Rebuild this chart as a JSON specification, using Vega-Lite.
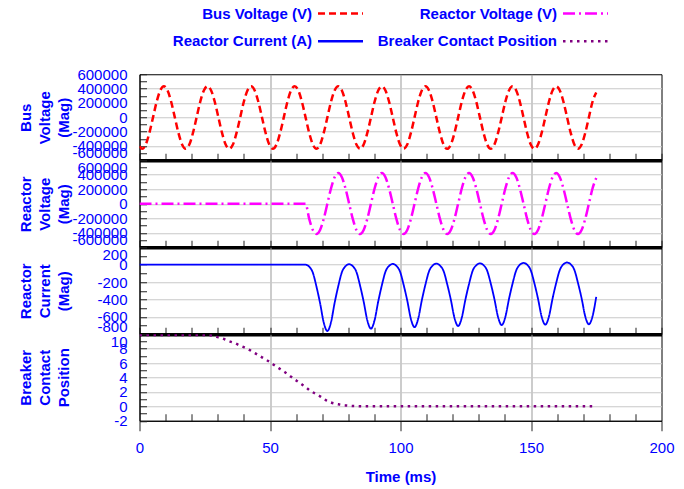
{
"$schema": "https://vega.github.io/schema/vega-lite/v6.json",
"padding": {"left": 17.5, "top": 0.25, "right": 0, "bottom": 0},
"spacing": 0,
"bounds": "flush",
"config": {
  "font": "Liberation Sans",
  "view": {"stroke": "#000000", "strokeWidth": 1},
  "axis": {"labelFont": "Liberation Sans", "labelFontSize": 15, "labelColor": "#0000ff", "titleFont": "Liberation Sans", "titleFontSize": 15, "titleFontWeight": "bold", "titleColor": "#0000ff", "domainColor": "#000000", "tickColor": "#222222", "labelOverlap": false, "labelBound": false},
  "axisY": {"tickSize": -7, "labelPadding": 19.5, "gridColor": "#c8c8c8", "labelFlush": false, "domainColor": "#000000"},
  "axisX": {"domainColor": "#000000", "domainOpacity": 1}
},
"data": {"values": [
{"t":0,"a":-405000,"b":0,"c":0,"d":9.9},
{"t":1.00,"a":-440000,"b":0,"c":0,"d":9.9},
{"t":2.39,"a":-381000,"b":0,"c":0,"d":9.9},
{"t":3.78,"a":-219000,"b":0,"c":0,"d":9.9},
{"t":5.18,"a":-2000,"b":0,"c":0,"d":9.9},
{"t":6.57,"a":216000,"b":0,"c":0,"d":9.9},
{"t":7.96,"a":374000,"b":0,"c":0,"d":9.9},
{"t":9.35,"a":432000,"b":0,"c":0,"d":9.9},
{"t":10.74,"a":374000,"b":0,"c":0,"d":9.9},
{"t":12.13,"a":216000,"b":0,"c":0,"d":9.9},
{"t":13.53,"a":-2000,"b":0,"c":0,"d":9.9},
{"t":14.92,"a":-219000,"b":0,"c":0,"d":9.9},
{"t":16.31,"a":-381000,"b":0,"c":0,"d":9.9},
{"t":17.70,"a":-440000,"b":0,"c":0,"d":9.9},
{"t":19.09,"a":-381000,"b":0,"c":0,"d":9.9},
{"t":20.48,"a":-219000,"b":0,"c":0,"d":9.9},
{"t":21.88,"a":-2000,"b":0,"c":0,"d":9.9},
{"t":23.27,"a":216000,"b":0,"c":0,"d":9.9},
{"t":24.66,"a":374000,"b":0,"c":0,"d":9.9},
{"t":26.05,"a":432000,"b":0,"c":0,"d":9.9},
{"t":27.44,"a":374000,"b":0,"c":0,"d":9.84},
{"t":28.83,"a":216000,"b":0,"c":0,"d":9.72},
{"t":30.23,"a":-2000,"b":0,"c":0,"d":9.56},
{"t":31.62,"a":-219000,"b":0,"c":0,"d":9.43},
{"t":33.01,"a":-381000,"b":0,"c":0,"d":9.24},
{"t":34.40,"a":-440000,"b":0,"c":0,"d":9.03},
{"t":35.79,"a":-381000,"b":0,"c":0,"d":8.86},
{"t":37.18,"a":-219000,"b":0,"c":0,"d":8.65},
{"t":38.58,"a":-2000,"b":0,"c":0,"d":8.41},
{"t":39.97,"a":216000,"b":0,"c":0,"d":8.21},
{"t":41.36,"a":374000,"b":0,"c":0,"d":7.97},
{"t":42.75,"a":432000,"b":0,"c":0,"d":7.70},
{"t":44.14,"a":374000,"b":0,"c":0,"d":7.40},
{"t":45.53,"a":216000,"b":0,"c":0,"d":7.10},
{"t":46.93,"a":-2000,"b":0,"c":0,"d":6.80},
{"t":48.32,"a":-219000,"b":0,"c":0,"d":6.50},
{"t":49.71,"a":-381000,"b":0,"c":0,"d":6.20},
{"t":51.10,"a":-440000,"b":0,"c":0,"d":5.85},
{"t":52.49,"a":-381000,"b":0,"c":0,"d":5.50},
{"t":53.88,"a":-219000,"b":0,"c":0,"d":5.17},
{"t":55.28,"a":-2000,"b":0,"c":0,"d":4.84},
{"t":56.67,"a":216000,"b":0,"c":0,"d":4.50},
{"t":58.06,"a":374000,"b":0,"c":0,"d":4.11},
{"t":59.45,"a":432000,"b":0,"c":0,"d":3.73},
{"t":60.84,"a":374000,"b":0,"c":0,"d":3.39},
{"t":62.23,"a":216000,"b":0,"c":0,"d":3.04},
{"t":63.63,"a":-2000,"b":0,"c":0,"d":2.68},
{"t":65.02,"a":-219000,"b":-209000,"c":-23,"d":2.26},
{"t":66.41,"a":-381000,"b":-362000,"c":-92,"d":1.95},
{"t":67.80,"a":-440000,"b":-418000,"c":-252,"d":1.66},
{"t":69.19,"a":-381000,"b":-362000,"c":-443,"d":1.38},
{"t":70.58,"a":-219000,"b":-209000,"c":-664,"d":1.05},
{"t":71.98,"a":-2000,"b":0,"c":-763,"d":0.72},
{"t":73.37,"a":216000,"b":210000,"c":-663,"d":0.53},
{"t":74.76,"a":374000,"b":366000,"c":-440,"d":0.38},
{"t":76.15,"a":432000,"b":424000,"c":-248,"d":0.29},
{"t":77.54,"a":374000,"b":366000,"c":-87,"d":0.20},
{"t":78.93,"a":216000,"b":210000,"c":-18,"d":0.13},
{"t":80.33,"a":-2000,"b":0,"c":5,"d":0.09},
{"t":81.72,"a":-219000,"b":-209000,"c":-17,"d":0.05},
{"t":83.11,"a":-381000,"b":-362000,"c":-84,"d":0.03},
{"t":84.50,"a":-440000,"b":-418000,"c":-240,"d":0.01},
{"t":85.89,"a":-381000,"b":-362000,"c":-425,"d":0},
{"t":87.28,"a":-219000,"b":-209000,"c":-640,"d":0},
{"t":88.68,"a":-2000,"b":0,"c":-736,"d":0},
{"t":90.07,"a":216000,"b":210000,"c":-639,"d":0},
{"t":91.46,"a":374000,"b":366000,"c":-424,"d":0},
{"t":92.85,"a":432000,"b":424000,"c":-238,"d":0},
{"t":94.24,"a":374000,"b":366000,"c":-81,"d":0},
{"t":95.63,"a":216000,"b":210000,"c":-14,"d":0},
{"t":97.03,"a":-2000,"b":0,"c":8,"d":0},
{"t":98.42,"a":-219000,"b":-209000,"c":-14,"d":0},
{"t":99.81,"a":-381000,"b":-362000,"c":-79,"d":0},
{"t":101.20,"a":-440000,"b":-418000,"c":-232,"d":0},
{"t":102.59,"a":-381000,"b":-362000,"c":-413,"d":0},
{"t":103.98,"a":-219000,"b":-209000,"c":-624,"d":0},
{"t":105.38,"a":-2000,"b":0,"c":-718,"d":0},
{"t":106.77,"a":216000,"b":210000,"c":-623,"d":0},
{"t":108.16,"a":374000,"b":366000,"c":-411,"d":0},
{"t":109.55,"a":432000,"b":424000,"c":-229,"d":0},
{"t":110.94,"a":374000,"b":366000,"c":-76,"d":0},
{"t":112.33,"a":216000,"b":210000,"c":-10,"d":0},
{"t":113.73,"a":-2000,"b":0,"c":12,"d":0},
{"t":115.12,"a":-219000,"b":-209000,"c":-10,"d":0},
{"t":116.51,"a":-381000,"b":-362000,"c":-74,"d":0},
{"t":117.90,"a":-440000,"b":-418000,"c":-225,"d":0},
{"t":119.29,"a":-381000,"b":-362000,"c":-404,"d":0},
{"t":120.68,"a":-219000,"b":-209000,"c":-612,"d":0},
{"t":122.08,"a":-2000,"b":0,"c":-705,"d":0},
{"t":123.47,"a":216000,"b":210000,"c":-611,"d":0},
{"t":124.86,"a":374000,"b":366000,"c":-403,"d":0},
{"t":126.25,"a":432000,"b":424000,"c":-223,"d":0},
{"t":127.64,"a":374000,"b":366000,"c":-71,"d":0},
{"t":129.03,"a":216000,"b":210000,"c":-7,"d":0},
{"t":130.43,"a":-2000,"b":0,"c":15,"d":0},
{"t":131.82,"a":-219000,"b":-209000,"c":-6,"d":0},
{"t":133.21,"a":-381000,"b":-362000,"c":-70,"d":0},
{"t":134.60,"a":-440000,"b":-418000,"c":-219,"d":0},
{"t":135.99,"a":-381000,"b":-362000,"c":-397,"d":0},
{"t":137.38,"a":-219000,"b":-209000,"c":-603,"d":0},
{"t":138.78,"a":-2000,"b":0,"c":-695,"d":0},
{"t":140.17,"a":216000,"b":210000,"c":-602,"d":0},
{"t":141.56,"a":374000,"b":366000,"c":-395,"d":0},
{"t":142.95,"a":432000,"b":424000,"c":-216,"d":0},
{"t":144.34,"a":374000,"b":366000,"c":-66,"d":0},
{"t":145.73,"a":216000,"b":210000,"c":-1,"d":0},
{"t":147.13,"a":-2000,"b":0,"c":20,"d":0},
{"t":148.52,"a":-219000,"b":-209000,"c":-1,"d":0},
{"t":149.91,"a":-381000,"b":-362000,"c":-65,"d":0},
{"t":151.30,"a":-440000,"b":-418000,"c":-214,"d":0},
{"t":152.69,"a":-381000,"b":-362000,"c":-392,"d":0},
{"t":154.08,"a":-219000,"b":-209000,"c":-598,"d":0},
{"t":155.48,"a":-2000,"b":0,"c":-690,"d":0},
{"t":156.87,"a":216000,"b":210000,"c":-597,"d":0},
{"t":158.26,"a":374000,"b":366000,"c":-390,"d":0},
{"t":159.65,"a":432000,"b":424000,"c":-211,"d":0},
{"t":161.04,"a":374000,"b":366000,"c":-61,"d":0},
{"t":162.43,"a":216000,"b":210000,"c":4,"d":0},
{"t":163.83,"a":-2000,"b":0,"c":25,"d":0},
{"t":165.22,"a":-219000,"b":-209000,"c":4,"d":0},
{"t":166.61,"a":-381000,"b":-362000,"c":-60,"d":0},
{"t":168.00,"a":-440000,"b":-418000,"c":-210,"d":0},
{"t":169.39,"a":-381000,"b":-362000,"c":-387,"d":0},
{"t":170.78,"a":-219000,"b":-209000,"c":-594,"d":0},
{"t":172.18,"a":-2000,"b":0,"c":-686,"d":0},
{"t":173.57,"a":216000,"b":210000,"c":-594,"d":0},
{"t":175.00,"a":345000,"b":355000,"c":-370,"d":0}
]},
"vconcat": [
{
  "width": 522, "height": 86,
  "transform": [{"fold": ["a"], "as": ["s", "v"]}],
  "mark": {"type": "line", "strokeWidth": 2.5, "interpolate": "monotone", "clip": true},
  "encoding": {
    "x": {"field": "t", "type": "quantitative", "scale": {"domain": [0, 200], "nice": false},
      "axis": {"title": null, "labels": false, "values": [0,10,20,30,40,50,60,70,80,90,100,110,120,130,140,150,160,170,180,190,200], "tickSize": -7, "domainWidth": 3.5, "domainColor": "#000000", "grid": true, "gridColor": "#999999", "gridOpacity": {"condition": {"test": "datum.value % 50 == 0 && datum.value > 0 && datum.value < 200", "value": 1}, "value": 0}}},
    "y": {"field": "v", "type": "quantitative", "scale": {"domain": [-600000, 600000], "nice": false, "zero": false},
      "axis": {"title": ["Bus", "Voltage", "(Mag)"], "titleX": -106, "titleY": 43, "titleAngle": 270, "titleAlign": "center", "titleBaseline": "bottom", "titleLineHeight": 19,
        "values": [-600000,-500000,-400000,-300000,-200000,-100000,0,100000,200000,300000,400000,500000,600000],
        "labelExpr": "datum.value % 200000 == 0 ? '' + datum.value : ''",
        "labelBaseline": {"condition": {"test": "datum.value == -600000", "value": "bottom"}, "value": "middle"},
        "grid": true, "gridOpacity": {"condition": {"test": "datum.value % 200000 != 0 || abs(datum.value) >= 600000", "value": 0}, "value": 1}}},
    "color": {"field": "s", "type": "nominal", "scale": {"domain": ["a", "b", "c", "d"], "range": ["#ff0000", "#ff00ff", "#0000ff", "#800080"]},
      "legend": {"orient": "none", "legendX": 188.5, "legendY": -73.45, "direction": "horizontal", "columns": 2, "title": null, "symbolType": "M-2,0H2", "symbolSize": 506, "symbolStrokeWidth": 2.5, "labelFont": "Liberation Sans", "labelFontSize": 15, "labelFontWeight": "bold", "labelColor": "#0000ff", "labelAlign": "right", "labelOffset": -41, "rowPadding": 7, "columnPadding": 9, "padding": 0, "labelLimit": 300,
        "labelExpr": "datum.label == 'a' ? 'Bus Voltage (V)' : datum.label == 'b' ? 'Reactor Voltage (V)' : datum.label == 'c' ? 'Reactor Current (A)' : 'Breaker Contact Position'"}},
    "strokeDash": {"field": "s", "type": "nominal", "scale": {"domain": ["a", "b", "c", "d"], "range": [[7, 4], [12, 4, 2, 4], [1, 0], [2.5, 4.5]]},
      "legend": {"orient": "none", "legendX": 188.5, "legendY": -73.45, "direction": "horizontal", "columns": 2, "title": null, "symbolType": "M-2,0H2", "symbolSize": 506, "symbolStrokeWidth": 2.5, "labelFont": "Liberation Sans", "labelFontSize": 15, "labelFontWeight": "bold", "labelColor": "#0000ff", "labelAlign": "right", "labelOffset": -41, "rowPadding": 7, "columnPadding": 9, "padding": 0, "labelLimit": 300,
        "labelExpr": "datum.label == 'a' ? 'Bus Voltage (V)' : datum.label == 'b' ? 'Reactor Voltage (V)' : datum.label == 'c' ? 'Reactor Current (A)' : 'Breaker Contact Position'"}}
  }
},
{
  "width": 522, "height": 87,
  "transform": [{"fold": ["b"], "as": ["s", "v"]}],
  "mark": {"type": "line", "strokeWidth": 2.5, "interpolate": "monotone", "clip": true},
  "encoding": {
    "x": {"field": "t", "type": "quantitative", "scale": {"domain": [0, 200], "nice": false},
      "axis": {"title": null, "labels": false, "values": [0,10,20,30,40,50,60,70,80,90,100,110,120,130,140,150,160,170,180,190,200], "tickSize": -7, "domainWidth": 3.5, "domainColor": "#000000", "grid": true, "gridColor": "#999999", "gridOpacity": {"condition": {"test": "datum.value % 50 == 0 && datum.value > 0 && datum.value < 200", "value": 1}, "value": 0}}},
    "y": {"field": "v", "type": "quantitative", "scale": {"domain": [-600000, 600000], "nice": false, "zero": false},
      "axis": {"title": ["Reactor", "Voltage", "(Mag)"], "titleX": -106, "titleY": 43.5, "titleAngle": 270, "titleAlign": "center", "titleBaseline": "bottom", "titleLineHeight": 19,
        "values": [-600000,-500000,-400000,-300000,-200000,-100000,0,100000,200000,300000,400000,500000,600000],
        "labelExpr": "datum.value % 200000 == 0 ? '' + datum.value : ''",
        "labelFlush": true,
        "grid": true, "gridOpacity": {"condition": {"test": "datum.value % 200000 != 0 || abs(datum.value) >= 600000", "value": 0}, "value": 1}}},
    "color": {"field": "s", "type": "nominal"},
    "strokeDash": {"field": "s", "type": "nominal"}
  }
},
{
  "width": 522, "height": 87,
  "transform": [{"fold": ["c"], "as": ["s", "v"]}],
  "mark": {"type": "line", "strokeWidth": 1.8, "interpolate": "monotone", "clip": true},
  "encoding": {
    "x": {"field": "t", "type": "quantitative", "scale": {"domain": [0, 200], "nice": false},
      "axis": {"title": null, "labels": false, "values": [0,10,20,30,40,50,60,70,80,90,100,110,120,130,140,150,160,170,180,190,200], "tickSize": -7, "domainWidth": 3.5, "domainColor": "#000000", "grid": true, "gridColor": "#999999", "gridOpacity": {"condition": {"test": "datum.value % 50 == 0 && datum.value > 0 && datum.value < 200", "value": 1}, "value": 0}}},
    "y": {"field": "v", "type": "quantitative", "scale": {"domain": [-800, 200], "nice": false, "zero": false},
      "axis": {"title": ["Reactor", "Current", "(Mag)"], "titleX": -106, "titleY": 43.5, "titleAngle": 270, "titleAlign": "center", "titleBaseline": "bottom", "titleLineHeight": 19,
        "values": [-800,-700,-600,-500,-400,-300,-200,-100,0,100,200],
        "labelExpr": "datum.value % 200 == 0 ? '' + datum.value : ''",
        "labelFlush": true,
        "grid": true, "gridOpacity": {"condition": {"test": "datum.value % 200 != 0 || datum.value <= -800 || datum.value >= 200", "value": 0}, "value": 1}}},
    "color": {"field": "s", "type": "nominal"},
    "strokeDash": {"field": "s", "type": "nominal"}
  }
},
{
  "width": 522, "height": 86.5,
  "transform": [{"fold": ["d"], "as": ["s", "v"]}],
  "mark": {"type": "line", "strokeWidth": 2.5, "interpolate": "monotone", "clip": true},
  "encoding": {
    "x": {"field": "t", "type": "quantitative", "scale": {"domain": [0, 200], "nice": false},
      "axis": {"title": "Time (ms)", "values": [0,10,20,30,40,50,60,70,80,90,100,110,120,130,140,150,160,170,180,190,200],
        "labelExpr": "datum.value % 50 == 0 ? datum.label : ''",
        "tickSize": {"condition": {"test": "datum.value % 50 == 0", "value": 10}, "value": -7},
        "labelPadding": 10, "labelFlush": false, "titlePadding": 14, "domainWidth": 1, "domainColor": "#000000",
        "grid": true, "gridColor": "#999999", "gridOpacity": {"condition": {"test": "datum.value % 50 == 0 && datum.value > 0 && datum.value < 200", "value": 1}, "value": 0}}},
    "y": {"field": "v", "type": "quantitative", "scale": {"domain": [-2, 10], "nice": false, "zero": false},
      "axis": {"title": ["Breaker", "Contact", "Position"], "titleX": -106, "titleY": 43, "titleAngle": 270, "titleAlign": "center", "titleBaseline": "bottom", "titleLineHeight": 19,
        "values": [-2,-1,0,1,2,3,4,5,6,7,8,9,10],
        "labelExpr": "datum.value % 2 == 0 ? '' + datum.value : ''",
        "labelBaseline": {"condition": {"test": "datum.value == 10", "value": "top"}, "value": "middle"},
        "grid": true, "gridOpacity": {"condition": {"test": "datum.value % 2 != 0 || datum.value <= -2 || datum.value >= 10", "value": 0}, "value": 1}}},
    "color": {"field": "s", "type": "nominal"},
    "strokeDash": {"field": "s", "type": "nominal"}
  }
}
]
}
